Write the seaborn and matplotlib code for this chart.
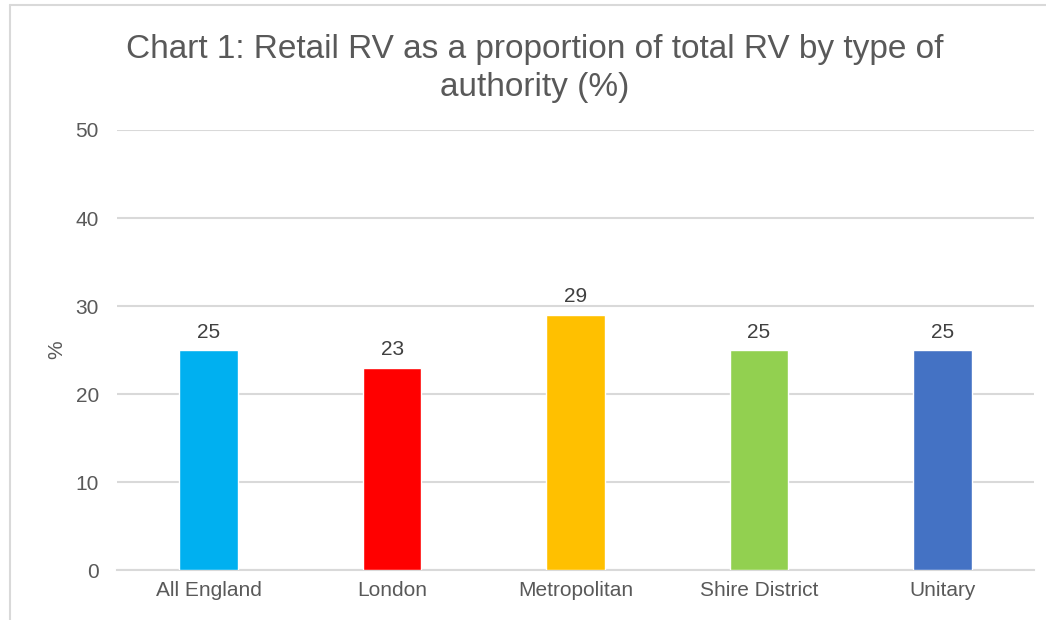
import seaborn as sns
import matplotlib.pyplot as plt
import pandas as pd
from matplotlib.lines import Line2D

categories = ['All England', 'London', 'Metropolitan', 'Shire District', 'Unitary']
values = [25, 23, 29, 25, 25]
colors = ['#00B0F0', '#FF0000', '#FFC000', '#92D050', '#4472C4']
yticks = [0, 10, 20, 30, 40, 50]

sns.set_theme(style='white')
plt.rcParams['font.family'] = ['Liberation Sans', 'DejaVu Sans']

df = pd.DataFrame({'type': categories, 'pct': values})

fig = plt.figure(figsize=(10.46, 6.2), dpi=100)
ax = fig.add_axes([117 / 1046, 50 / 620, 917 / 1046, 440 / 620])

sns.barplot(data=df, x='type', y='pct', hue='type', palette=colors,
            width=0.32, saturation=1, legend=False, ax=ax, zorder=3)

# data labels
for c in ax.containers:
    ax.bar_label(c, padding=6, fontsize=15, color='#404040')

ax.set_ylim(0, 50)
ax.set_yticks(yticks)
ax.yaxis.grid(True, color='#d9d9d9', linewidth=1.5, zorder=0)
for s in ['top', 'right', 'left']:
    ax.spines[s].set_visible(False)
ax.spines['bottom'].set_color('#d9d9d9')
ax.spines['bottom'].set_linewidth(1.5)
ax.tick_params(axis='both', length=0, labelsize=15, colors='#595959')
ax.tick_params(axis='y', pad=13)
ax.tick_params(axis='x', pad=8)
ax.set_xlabel('')
ax.set_ylabel('%', fontsize=15, color='#595959', labelpad=7)

fig.suptitle('Chart 1: Retail RV as a proportion of total RV by type of\nauthority (%)',
             x=535 / 1046, y=1 - 34 / 620, fontsize=24, color='#595959', linespacing=1.3)

# outer chart border (partially cropped in the original)
fig.add_artist(Line2D([10 / 1046, 1], [1 - 5 / 620, 1 - 5 / 620],
                      transform=fig.transFigure, color='#d9d9d9', linewidth=1.5))
fig.add_artist(Line2D([10 / 1046, 10 / 1046], [0, 1 - 5 / 620],
                      transform=fig.transFigure, color='#d9d9d9', linewidth=1.5))

fig.savefig('out.png', dpi=100)
